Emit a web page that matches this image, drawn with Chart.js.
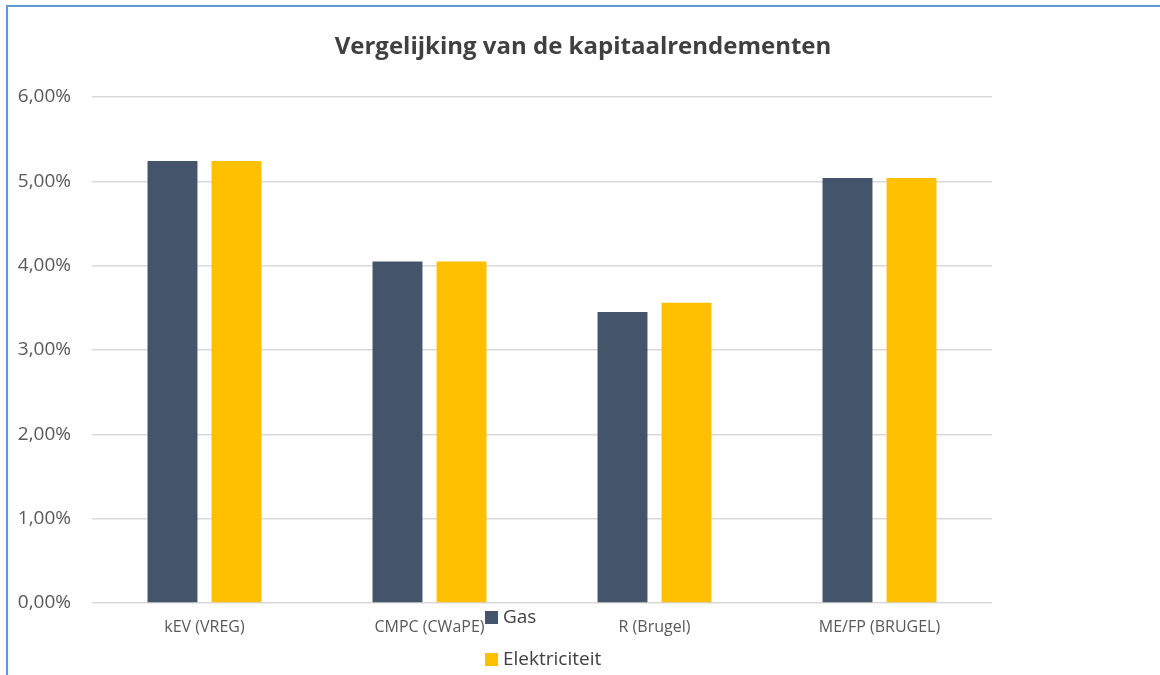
<!DOCTYPE html>
<html>
<head>
<meta charset="utf-8">
<script src="https://cdn.jsdelivr.net/npm/chart.js@4/dist/chart.umd.min.js"></script>
<style>
body{margin:0;background:#fff;}
#wrap{position:relative;width:1160px;height:675px;overflow:hidden;}
#frame{position:absolute;left:6px;top:5px;width:1200px;height:700px;border-left:2px solid #5B9BD5;border-top:2px solid #5B9BD5;}
canvas{position:absolute;left:0;top:0;}
</style>
</head>
<body>
<div id="wrap">
<div id="frame"></div>
<canvas id="chart" width="1160" height="675"></canvas>
</div>
<script>
const categories=["kEV (VREG)","CMPC (CWaPE)","R (Brugel)","ME/FP (BRUGEL)"];
const gasValues=[5.24,4.05,3.45,5.04];
const elekValues=[5.24,4.05,3.56,5.04];
const yTicks=[0,1,2,3,4,5,6];
const chartTitle="Vergelijking van de kapitaalrendementen";

const font="'Open Sans', sans-serif";

// title centred on the whole frame, legend as a vertical list over the axis labels
const manualText={
    id:"manualText",
    afterDraw:function(chart){
        const ctx=chart.ctx;
        ctx.save();
        ctx.font="bold 24px "+font;
        ctx.fillStyle="#404040";
        ctx.textAlign="center";
        ctx.textBaseline="middle";
        ctx.fillText(chartTitle,583,47);
        ctx.textAlign="left";
        ctx.textBaseline="alphabetic";
        ctx.font="19px "+font;
        chart.data.datasets.forEach((ds,i)=>{
            let y=617+i*42;
            ctx.fillStyle=ds.backgroundColor;
            ctx.fillRect(485,y-6,13,13);
            ctx.fillStyle="#404040";
            ctx.fillText(ds.label,503,y+6);
        });
        ctx.restore();
    }
};

const ctx=document.getElementById("chart").getContext("2d");
const myChart=new Chart(ctx,{
    type:"bar",
    data:{
        labels:categories,
        datasets:[{
            label:"Gas",
            data:gasValues,
            backgroundColor:"#44546A",
            borderWidth:0
        },{
            label:"Elektriciteit",
            data:elekValues,
            backgroundColor:"#FFC000",
            borderWidth:0
        }]
    },
    options:{
        responsive:false,
        animation:false,
        layout:{padding:{left:0,right:168,top:97,bottom:0}},
        datasets:{bar:{categoryPercentage:0.569,barPercentage:0.78}},
        plugins:{
            legend:{display:false},
            tooltip:{enabled:false},
            title:{display:false}
        },
        scales:{
            x:{
                grid:{display:false,drawTicks:false},
                border:{display:false},
                ticks:{color:"#595959",font:{family:font,size:16},padding:15},
                afterFit:function(s){s.height=72;}
            },
            y:{
                min:0,max:6,
                afterBuildTicks:function(s){s.ticks=yTicks.map(v=>({value:v}));},
                grid:{color:"#D9D9D9",lineWidth:1.5,drawTicks:false},
                border:{display:false},
                ticks:{
                    color:"#595959",
                    font:{family:font,size:19},
                    padding:21,
                    callback:function(v){return v.toFixed(2).replace(".",",")+"%";}
                },
                afterFit:function(s){s.width=92;}
            }
        }
    },
    plugins:[manualText]
});
</script>
</body>
</html>
